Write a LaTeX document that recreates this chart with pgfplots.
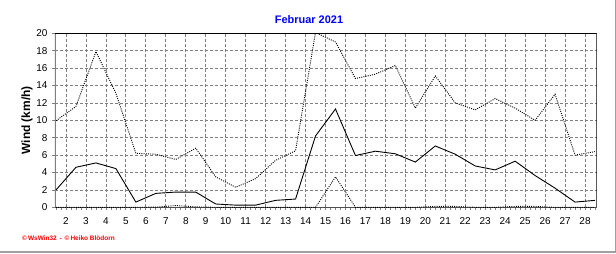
\documentclass[border=0pt]{standalone}
\usepackage{fontspec}
\setmainfont{Liberation Sans}
\usepackage{pgfplots}
\pgfplotsset{compat=1.18}
\definecolor{gridgray}{RGB}{128,128,128}
\definecolor{titleblue}{RGB}{0,0,255}
\definecolor{footred}{RGB}{255,0,0}
\definecolor{framegray}{RGB}{160,160,160}
\begin{document}
\begin{tikzpicture}[x=1bp,y=1bp]
\useasboundingbox (-55,-45.7) rectangle (561,207.3);
\begin{axis}[
  at={(0,0)}, anchor=south west,
  scale only axis, width=541.7bp, height=174bp,
  xmin=1.449, xmax=28.586, ymin=0, ymax=20,
  xtick={2,...,28}, minor xtick={1.5,1.75,...,28.5},
  ytick={0,2,...,20},
  xtick pos=bottom, ytick pos=left,
  tick align=outside,
  major tick length=3bp, minor tick length=2.5bp,
  every tick/.style={gridgray, line width=0.8bp},
  grid=major,
  major grid style={gridgray, dash pattern=on 3bp off 2bp, line width=0.8bp},
  axis line style={draw=none},
  tick label style={font=\fontsize{10}{12}\selectfont},
  /pgf/number format/assume math mode=true,
  xticklabel style={yshift=-4bp},
  yticklabel style={xshift=-1bp},
  ylabel={\textbf{Wind  (km/h)}},
  every axis y label/.style={at={(rel axis cs:0,0.5)}, xshift=-28bp, rotate=90, anchor=center, font=\fontsize{12}{14}\selectfont},
  clip=true,
]
% frame
\draw[gridgray, line width=2bp] (rel axis cs:0,0) -- (rel axis cs:0,1);
\draw[black, line width=1bp] (rel axis cs:0,1) -- (rel axis cs:1,1) -- (rel axis cs:1,0);
\draw[gridgray!60!black, line width=1bp] (rel axis cs:0,0) -- (rel axis cs:1,0);
% max
\addplot[black, line width=0.9bp, dash pattern=on 1bp off 1.2bp] coordinates {
(1.5,9.95) (2.5,11.6) (3.5,17.9) (4.5,13.1) (5.5,6.2) (6.5,6.1) (7.5,5.5) (8.5,6.8)
(9.5,3.5) (10.5,2.3) (11.5,3.3) (12.5,5.4) (13.5,6.5) (14.5,20.1) (15.5,19.0)
(16.5,14.8) (17.5,15.3) (18.5,16.3) (19.5,11.4) (20.5,15.1) (21.5,12.0) (22.5,11.2)
(23.5,12.5) (24.5,11.4) (25.5,10.0) (26.5,13.0) (27.5,6.0) (28.5,6.4)};
% mean
\addplot[black, line width=0.9bp] coordinates {
(1.5,2.0) (2.5,4.6) (3.5,5.1) (4.5,4.45) (5.5,0.6) (6.5,1.6) (7.5,1.75) (8.5,1.75)
(9.5,0.38) (10.5,0.25) (11.5,0.25) (12.5,0.8) (13.5,0.95) (14.5,8.2) (15.5,11.3)
(16.5,5.95) (17.5,6.45) (18.5,6.15) (19.5,5.2) (20.5,7.05) (21.5,6.1) (22.5,4.75)
(23.5,4.3) (24.5,5.3) (25.5,3.65) (26.5,2.2) (27.5,0.6) (28.5,0.8)};
% min
\addplot[black, line width=0.9bp, dash pattern=on 1bp off 1.2bp] coordinates {
(1.5,0) (2.5,0) (3.5,0) (4.5,0) (5.5,0) (6.5,0.02) (7.5,0.2) (8.5,0.05)
(9.5,0) (10.5,0) (11.5,0) (12.5,0) (13.5,0) (14.5,0) (15.5,3.5)
(16.5,0) (17.5,0) (18.5,0) (19.5,0) (20.5,0.1) (21.5,0.1) (22.5,0)
(23.5,0) (24.5,0.1) (25.5,0.1) (26.5,0) (27.5,0) (28.5,0)};
\end{axis}
\node[font=\bfseries\fontsize{11}{13}\selectfont, text=titleblue] at (254,188) {Februar 2021};
\node[anchor=west, font=\bfseries\fontsize{6.5}{8}\selectfont, text=footred, inner sep=0] at (-33,-31) {©\,WsWin32 \,-\, ©\,Heiko Blödorn};
\draw[framegray, line width=1.2bp] (-55,-44.6) -- (560.2,-44.6) -- (560.2,207.3);
\end{tikzpicture}
\end{document}
